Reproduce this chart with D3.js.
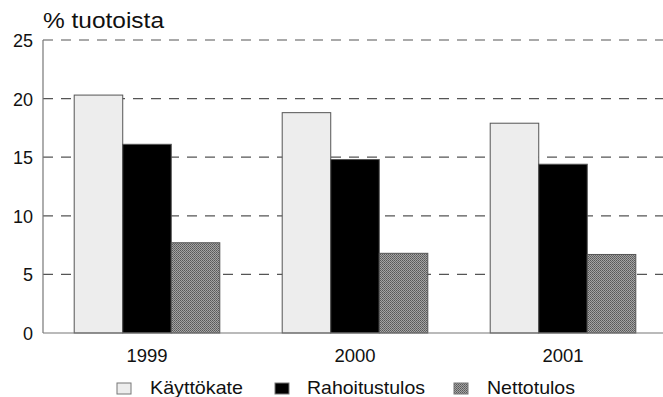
<!DOCTYPE html>
<html><head><meta charset="utf-8">
<script src="https://cdn.jsdelivr.net/npm/d3@7"></script>
<style>body{margin:0;background:#fff;font-family:"Liberation Sans",Arial,sans-serif}</style>
</head><body>
<svg id="c" width="663" height="397"></svg>
<script>
const years = ["1999","2000","2001"];
const seriesNames = ["Käyttökate","Rahoitustulos","Nettotulos"];
const kayttokate = [20.3, 18.8, 17.9];
const rahoitustulos = [16.1, 14.8, 14.4];
const nettotulos = [7.7, 6.8, 6.7];
const yTicks = [0,5,10,15,20,25];
const colors = ["#ededed","#000000","#8c8c8c"];

const svg = d3.select("#c");
const defs = svg.append("defs");
const pat = defs.append("pattern").attr("id","pg").attr("width",2).attr("height",2).attr("patternUnits","userSpaceOnUse");
pat.append("rect").attr("width",2).attr("height",2).attr("fill","#a4a4a4");
pat.append("rect").attr("width",1).attr("height",1).attr("fill","#585858");
pat.append("rect").attr("x",1).attr("y",1).attr("width",1).attr("height",1).attr("fill","#686868");
const fills = [colors[0], colors[1], "url(#pg)"];

const x0 = d3.scaleBand().domain(years).range([43,667]).paddingInner(0.3).paddingOuter(0.15);
const x1 = d3.scaleBand().domain(seriesNames).range([0,x0.bandwidth()]);
const y = d3.scaleLinear().domain([0,25]).range([333,40]);

// grid
svg.append("g").selectAll("line").data(yTicks.filter(d=>d>0)).join("line")
  .attr("x1",43).attr("x2",663).attr("y1",d=>y(d)).attr("y2",d=>y(d))
  .attr("stroke","#555").attr("stroke-width",1.2).attr("stroke-dasharray","10,8");

// y labels
svg.append("g").selectAll("text").data(yTicks).join("text")
  .attr("x",33).attr("y",d=>y(d)+7).attr("text-anchor","end")
  .attr("font-size",18).attr("fill","#111").text(d=>d);

const data = [kayttokate, rahoitustulos, nettotulos];
const g = svg.append("g");
years.forEach((yr,i)=>{
  seriesNames.forEach((s,j)=>{
    g.append("rect")
      .attr("x",x0(yr)+x1(s)).attr("width",x1.bandwidth())
      .attr("y",y(data[j][i])).attr("height",y(0)-y(data[j][i]))
      .attr("fill",fills[j]).attr("stroke","#555").attr("stroke-width",1);
  });
});

// axes lines
svg.append("line").attr("x1",43).attr("x2",43).attr("y1",40).attr("y2",333).attr("stroke","#777").attr("stroke-width",1.2);
svg.append("line").attr("x1",43).attr("x2",663).attr("y1",333).attr("y2",333).attr("stroke","#777").attr("stroke-width",1.2);

// x labels
svg.append("g").selectAll("text").data(years).join("text")
  .attr("x",d=>x0(d)+x0.bandwidth()/2).attr("y",362).attr("text-anchor","middle")
  .attr("font-size",18.5).attr("fill","#111").text(d=>d);

// title
svg.append("text").attr("x",43).attr("y",28).attr("font-size",22).attr("fill","#111")
  .attr("textLength",121).attr("lengthAdjust","spacingAndGlyphs").text("% tuotoista");

// legend
const legX = [117, 275, 454];
const legTX = [150, 307, 487];
const legW = [93, 118, 88];
seriesNames.forEach((s,j)=>{
  svg.append("rect").attr("x",legX[j]).attr("y",383).attr("width",14).attr("height",11)
    .attr("fill",fills[j]).attr("stroke","#777").attr("stroke-width",1);
  svg.append("text").attr("x",legTX[j]).attr("y",394).attr("font-size",19).attr("fill","#111")
    .attr("textLength",legW[j]).attr("lengthAdjust","spacingAndGlyphs").text(s);
});
</script>
</body></html>
